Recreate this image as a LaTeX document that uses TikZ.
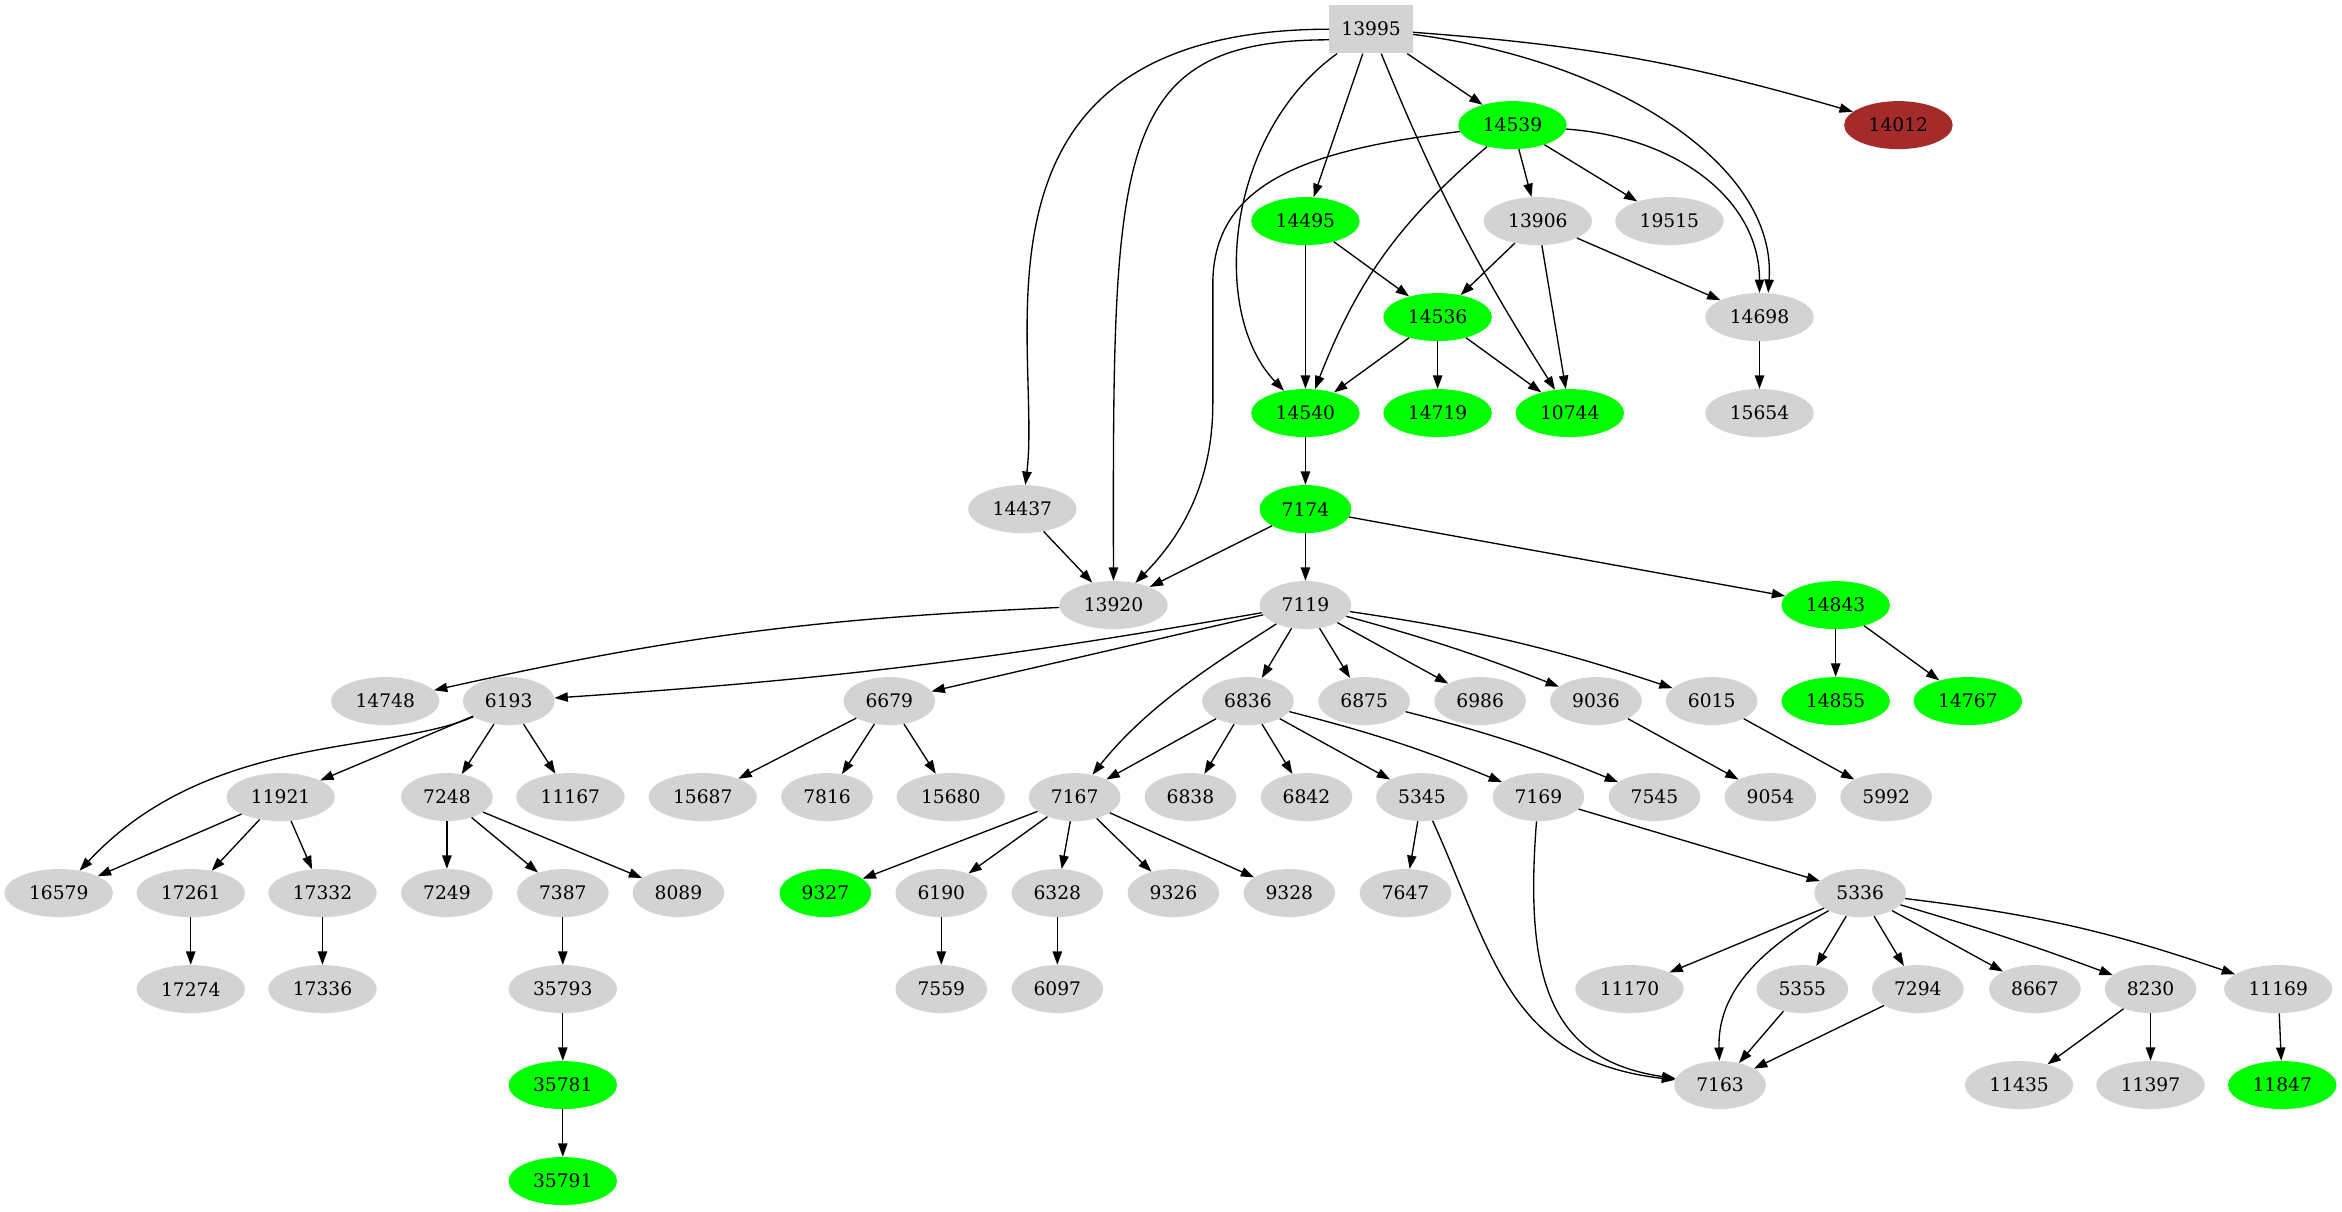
\documentclass[tikz,border=0pt]{standalone}
\usepackage{fontspec}
\setmainfont{DejaVu Serif}
\usepackage{xcolor}
\usetikzlibrary{shapes.geometric,arrows.meta}
\definecolor{lgrey}{HTML}{D3D3D3}
\definecolor{lgreen}{HTML}{00FF00}
\definecolor{dbrown}{HTML}{A52A2A}

\begin{document}
\begin{tikzpicture}[x=1.12pt,y=-1.12pt,declare function={row(\r)=19.5+64.27*\r;},
 vtx/.style={ellipse,fill=lgrey,inner xsep=6.5pt,inner ysep=0pt,minimum height=36pt,font=\fontsize{14pt}{16pt}\selectfont},
 hit/.style={vtx,fill=lgreen},
 link/.style={-{Triangle[length=10pt,width=7pt]},line width=1pt}]
\useasboundingbox (0,0) rectangle (1568,811);
% root, then the grey, green and brown vertices by row
\node[rectangle,fill=lgrey,minimum width=62.5pt,minimum height=36.4pt,font=\fontsize{14pt}{16pt}\selectfont] (n13995) at (918,{row(0)}) {13995};
\node[vtx,fill=dbrown] (n14012) at (1271,{row(1)}) {14012};
\foreach \n/\x/\r in {13906/1029.6/2,19515/1117.7/2,14698/1178/3,15654/1178/4,14437/684.5/5,13920/745.5/6,7119/874/6,
 14748/257.9/7,6193/340.6/7,6679/595.4/7,6836/835.5/7,6875/913.3/7,6986/991/7,9036/1068.5/7,6015/1146/7,
 11921/187.9/8,7248/299.2/8,11167/381.9/8,15687/470.5/8,7816/553.7/8,15680/636.5/8,7167/719.5/8,6838/797/8,6842/874.7/8,5345/952/8,7169/1030/8,7545/1107.7/8,9054/1185.3/8,5992/1262.8/8,
 16579/39.3/9,17261/127.7/9,17332/215.9/9,7249/299.2/9,7387/376.8/9,8089/454.2/9,6190/630.2/9,6328/707.9/9,9326/785.6/9,9328/863.2/9,7647/941/9,5336/1245.4/9,
 17274/127.7/10,17336/215.9/10,35793/376.8/10,7559/630.2/10,6097/707.9/10,11170/1091/10,5355/1206.7/10,7294/1284/10,8667/1362.4/10,8230/1439.8/10,11169/1525.3/10,
 7163/1151.6/11,11435/1351.8/11,11397/1439.8/11}
 \node[vtx] (n\n) at (\x,{row(\r)}) {\n};
\foreach \n/\x/\r in {14539/1012.6/1,14495/874/2,14536/962.5/3,14540/874/4,14719/962.5/4,10744/1051/4,7174/874/5,14843/1229/6,
 14855/1229/7,14767/1317.5/7,9327/552.6/9,35781/376.8/11,11847/1528/11,35791/376.8/12}
 \node[hit] (n\n) at (\x,{row(\r)}) {\n};
% straight connectors
\foreach \a/\b in {13995/14495,13995/14539,14539/13906,14539/19515,14495/14540,14495/14536,13906/14536,13906/10744,13906/14698,
 14536/14540,14536/14719,14536/10744,14698/15654,14540/7174,14437/13920,7174/13920,7174/7119,7174/14843,14843/14855,14843/14767,
 7119/6679,7119/6836,7119/6875,7119/6986,6193/11921,6193/7248,6193/11167,6679/15687,6679/7816,6679/15680,
 6836/7167,6836/6838,6836/6842,6836/5345,9036/9054,6015/5992,11921/16579,11921/17261,11921/17332,7248/7249,7248/7387,7248/8089,
 7167/9327,7167/6190,7167/6328,7167/9326,7167/9328,5345/7647,7169/5336,17261/17274,17332/17336,7387/35793,6190/7559,6328/6097,
 5336/11170,5336/5355,5336/7294,5336/8667,5355/7163,7294/7163,8230/11435,8230/11397,11169/11847,35793/35781,35781/35791}
 \draw[link] (n\a) -- (n\b);
% slightly bent ones
\foreach \a/\b/\s in {13995/14012/6,13995/10744/-5,14539/14540/-14,13920/14748/-5,7119/6193/3,7119/9036/3,7119/6015/5,
 6836/7169/4,6875/7545/4,5336/8230/2,5336/11169/6}
 \draw[link] (n\a) to[bend left=\s] (n\b);
% long curves
\draw[link] (n13995) .. controls (635,20) and (698,230) .. (n14437);
\draw[link] ([yshift=-8pt]n13995.west) .. controls (745,27) and (745,100) .. (n13920);
\draw[link] (n13995) .. controls (820,90) and (810,210) .. (n14540);
\draw[link] (n13995) .. controls (1080,40) and (1190,110) .. ([xshift=6.5pt]n14698.north);
\draw[link] (n14539) .. controls (1125,92) and (1178,135) .. (n14698.north);
\draw[link] (n14539) .. controls (880,100) and (812,120) .. (812,190) -- (812,270) .. controls (812,330) and (785,365) .. (n13920);
\draw[link] (n7119) .. controls (820,440) and (770,470) .. (n7167);
\draw[link] (n6193) .. controls (260,505) and (140,490) .. (n16579);
\draw[link] (n5345) .. controls (1000,640) and (1010,710) .. (n7163);
\draw[link] (n7169) .. controls (1020,660) and (1040,710) .. (n7163);
\draw[link] (n5336) .. controls (1170,640) and (1150,670) .. (n7163);
\end{tikzpicture}
\end{document}
